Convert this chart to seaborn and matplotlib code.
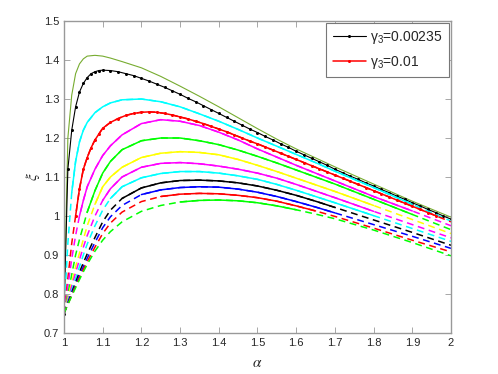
import pandas as pd
import matplotlib
matplotlib.use("Agg")
import matplotlib.pyplot as plt
from matplotlib.lines import Line2D
import seaborn as sns

# alpha grid shared by the plain curves
alpha = [1.00, 1.01, 1.02, 1.03, 1.04, 1.05, 1.06, 1.08, 1.10, 1.12, 1.15,
         1.20, 1.25, 1.30, 1.35, 1.40, 1.45, 1.50, 1.55, 1.60, 1.65, 1.70,
         1.80, 1.90, 2.00]

# finer grid for the two curves drawn with markers
alpha_fine = [1.00, 1.01, 1.02, 1.03, 1.04, 1.05, 1.06, 1.07, 1.08, 1.09, 1.10,
              1.12, 1.14, 1.16, 1.18, 1.20, 1.22, 1.24, 1.26, 1.28, 1.30,
              1.32, 1.34, 1.36, 1.38, 1.40, 1.42, 1.44, 1.46, 1.48, 1.50,
              1.52, 1.54, 1.56, 1.58, 1.60, 1.62, 1.64, 1.66, 1.68, 1.70,
              1.72, 1.74, 1.76, 1.78, 1.80, 1.82, 1.84, 1.86, 1.88, 1.90,
              1.92, 1.94, 1.96, 1.98, 2.00]

xi_olive = [0.75, 1.20, 1.31, 1.365, 1.39, 1.403, 1.41, 1.412, 1.41, 1.405, 1.396,
            1.38, 1.358, 1.333, 1.307, 1.28, 1.252, 1.224, 1.197, 1.172, 1.149, 1.126,
            1.082, 1.038, 0.997]

xi_black_dot = [0.75, 1.12, 1.22, 1.28, 1.318, 1.34, 1.355, 1.365, 1.37, 1.373, 1.374,
                1.373, 1.37, 1.365, 1.36, 1.353, 1.346, 1.338, 1.33, 1.321, 1.312,
                1.302, 1.293, 1.283, 1.273, 1.263, 1.253, 1.243, 1.233, 1.223, 1.214,
                1.204, 1.195, 1.185, 1.176, 1.166, 1.157, 1.148, 1.139, 1.13, 1.12,
                1.111, 1.102, 1.094, 1.085, 1.077, 1.068, 1.06, 1.051, 1.043, 1.034,
                1.026, 1.017, 1.009, 1.0, 0.992]

xi_cyan1 = [0.75, 0.93, 1.06, 1.14, 1.19, 1.22, 1.24, 1.265, 1.28, 1.29, 1.298,
            1.30, 1.293, 1.28, 1.262, 1.243, 1.222, 1.20, 1.179, 1.158, 1.137, 1.115,
            1.073, 1.03, 0.987]

xi_red_dot = [0.75, 0.84, 0.93, 1.0, 1.07, 1.12, 1.15, 1.175, 1.195, 1.21, 1.225,
              1.24, 1.25, 1.258, 1.263, 1.266, 1.267, 1.266, 1.263, 1.259, 1.254,
              1.249, 1.243, 1.237, 1.23, 1.223, 1.216, 1.208, 1.2, 1.192, 1.185,
              1.177, 1.169, 1.161, 1.153, 1.145, 1.137, 1.129, 1.121, 1.113, 1.105,
              1.097, 1.089, 1.081, 1.073, 1.065, 1.057, 1.049, 1.041, 1.033, 1.025,
              1.017, 1.009, 1.001, 0.993, 0.985]

xi_mag1 = [0.75, 0.82, 0.89, 0.95, 1.0, 1.04, 1.075, 1.12, 1.155, 1.18, 1.208,
           1.237, 1.247, 1.243, 1.232, 1.215, 1.195, 1.172, 1.151, 1.13, 1.11, 1.09,
           1.05, 1.013, 0.975]
xi_green1 = [0.75, 0.80, 0.85, 0.90, 0.94, 0.975, 1.01, 1.065, 1.11, 1.14, 1.17,
             1.193, 1.2, 1.2, 1.193, 1.183, 1.169, 1.153, 1.136, 1.118, 1.10, 1.082,
             1.043, 1.004, 0.965]
xi_yellow = [0.75, 0.79, 0.83, 0.87, 0.905, 0.94, 0.975, 1.03, 1.075, 1.10, 1.125,
             1.15, 1.161, 1.165, 1.163, 1.157, 1.145, 1.13, 1.114, 1.097, 1.08, 1.063,
             1.027, 0.991, 0.955]
xi_mag2 = [0.75, 0.785, 0.82, 0.855, 0.888, 0.92, 0.95, 1.0, 1.04, 1.07, 1.10,
           1.125, 1.135, 1.137, 1.134, 1.128, 1.12, 1.11, 1.097, 1.081, 1.064, 1.047,
           1.012, 0.978, 0.944]
xi_cyan2 = [0.75, 0.78, 0.81, 0.84, 0.87, 0.90, 0.928, 0.975, 1.015, 1.045, 1.075,
            1.098, 1.109, 1.114, 1.114, 1.11, 1.103, 1.094, 1.081, 1.066, 1.05, 1.034,
            1.001, 0.968, 0.935]
xi_black = [0.75, 0.777, 0.804, 0.83, 0.856, 0.88, 0.903, 0.945, 0.985, 1.015, 1.045,
            1.072, 1.085, 1.091, 1.092, 1.09, 1.085, 1.077, 1.066, 1.053, 1.038, 1.022,
            0.99, 0.958, 0.925]
xi_blue = [0.75, 0.775, 0.80, 0.824, 0.848, 0.87, 0.892, 0.932, 0.97, 0.998, 1.027,
           1.055, 1.067, 1.073, 1.075, 1.074, 1.069, 1.061, 1.05, 1.037, 1.023, 1.008,
           0.978, 0.948, 0.917]
xi_red = [0.75, 0.774, 0.797, 0.82, 0.842, 0.863, 0.883, 0.92, 0.955, 0.982, 1.01,
          1.037, 1.05, 1.056, 1.058, 1.057, 1.053, 1.047, 1.038, 1.026, 1.013, 0.999,
          0.969, 0.938, 0.908]
xi_green2 = [0.75, 0.773, 0.795, 0.816, 0.837, 0.857, 0.876, 0.91, 0.938, 0.96, 0.985,
             1.012, 1.027, 1.036, 1.04, 1.041, 1.039, 1.034, 1.026, 1.016, 1.005, 0.993,
             0.964, 0.932, 0.898]

# alpha range where each curve is drawn solid (dashed outside)
solid_from = [1.00, 1.00, 1.02, 1.03, 1.04, 1.06, 1.08, 1.10, 1.12, 1.15, 1.20, 1.25, 1.30]
solid_to = [2.00, 2.00, 1.98, 1.96, 1.95, 1.90, 1.88, 1.84, 1.80, 1.75, 1.70, 1.65, 1.60]

legend_labels = [r"$\mathregular{\gamma_3}$=0.00235", r"$\mathregular{\gamma_3}$=0.01"]

x_ticks = [1, 1.1, 1.2, 1.3, 1.4, 1.5, 1.6, 1.7, 1.8, 1.9, 2]
x_labels = ["1", "1.1", "1.2", "1.3", "1.4", "1.5", "1.6", "1.7", "1.8", "1.9", "2"]
y_ticks = [0.7, 0.8, 0.9, 1.0, 1.1, 1.2, 1.3, 1.4, 1.5]
y_labels = ["0.7", "0.8", "0.9", "1", "1.1", "1.2", "1.3", "1.4", "1.5"]

sns.set_style("ticks")
plt.rcParams["font.family"] = ["Liberation Sans", "DejaVu Sans"]
plt.rcParams["mathtext.fontset"] = "stix"

fig = plt.figure(figsize=(4.98, 3.74), dpi=100)
ax = fig.add_axes([0.1285, 0.1096, 0.7771, 0.8342])

curves = [
    (alpha, xi_olive, "#77AC30", 0.8, False),
    (alpha_fine, xi_black_dot, "k", 0.8, True),
    (alpha, xi_cyan1, "#00FFFF", 1.1, False),
    (alpha_fine, xi_red_dot, "#FF0000", 1.1, True),
    (alpha, xi_mag1, "#FF00FF", 1.1, False),
    (alpha, xi_green1, "#00FF00", 1.1, False),
    (alpha, xi_yellow, "#FFFF00", 1.1, False),
    (alpha, xi_mag2, "#FF00FF", 1.1, False),
    (alpha, xi_cyan2, "#00FFFF", 1.1, False),
    (alpha, xi_black, "k", 1.1, False),
    (alpha, xi_blue, "#0000FF", 1.1, False),
    (alpha, xi_red, "#FF0000", 1.1, False),
    (alpha, xi_green2, "#00FF00", 1.1, False),
]

handles = []
for i, (a, xi, color, lw, dotted) in enumerate(curves):
    df = pd.DataFrame({"alpha": a, "xi": xi})
    lo, hi = solid_from[i], solid_to[i]
    if lo > a[0] or hi < a[-1]:
        sns.lineplot(data=df, x="alpha", y="xi", ax=ax, color=color, lw=1.1,
                     linestyle=(0, (4.5, 3)), sort=False, estimator=None)
    part = df[(df["alpha"] >= lo - 1e-9) & (df["alpha"] <= hi + 1e-9)]
    kw = {}
    if dotted:
        kw = dict(marker="o", markersize=2.2, markeredgewidth=0)
        handles.append(Line2D([], [], color=color, lw=lw, **kw))
    sns.lineplot(data=part, x="alpha", y="xi", ax=ax, color=color, lw=lw,
                 sort=False, estimator=None, **kw)

ax.set_xlim(1, 2)
ax.set_ylim(0.7, 1.5)
ax.set_xticks(x_ticks)
ax.set_xticklabels(x_labels)
ax.set_yticks(y_ticks)
ax.set_yticklabels(y_labels)
ax.tick_params(direction="in", length=4, width=0.6, colors="#999999",
               labelcolor="#262626", labelsize=8, top=True, right=True)
for s in ax.spines.values():
    s.set_color("#999999")
    s.set_linewidth(1.0)
ax.set_xlabel(r"$\alpha$", fontsize=11, color="#262626", labelpad=6)
ax.set_ylabel(r"$\xi$", fontsize=11, color="#262626", labelpad=1)

leg = ax.legend(handles, legend_labels, loc="upper right", bbox_to_anchor=(1.0, 1.0),
                borderaxespad=0.15, fancybox=False, framealpha=1, edgecolor="#777777",
                fontsize=10, handlelength=2.4, handletextpad=0.3, borderpad=0.45,
                labelspacing=0.55, numpoints=1)
leg.get_frame().set_linewidth(0.8)

fig.savefig("out.png", dpi=100)
